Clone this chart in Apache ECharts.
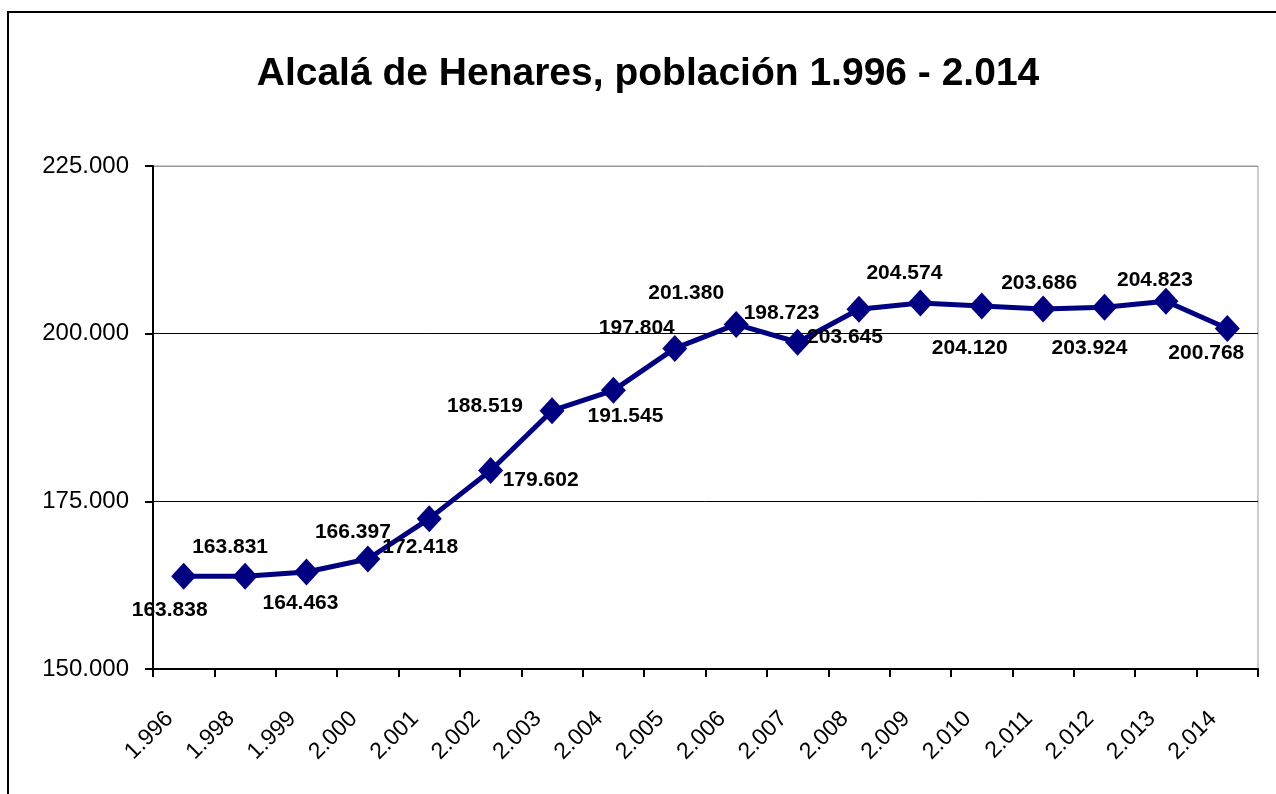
<!DOCTYPE html>
<html>
<head>
<meta charset="utf-8">
<script src="https://cdn.jsdelivr.net/npm/echarts@6/dist/echarts.min.js"></script>
<style>
  html, body { margin: 0; padding: 0; background: #fff; }
  #chart { width: 1276px; height: 794px; }
</style>
</head>
<body>
<div id="chart"></div>
<script>
// data
const years = ['1.996', '1.998', '1.999', '2.000', '2.001', '2.002', '2.003', '2.004', '2.005',
  '2.006', '2.007', '2.008', '2.009', '2.010', '2.011', '2.012', '2.013', '2.014'];
const population = [163838, 163831, 164463, 166397, 172418, 179602, 188519, 191545, 197804,
  201380, 198723, 203645, 204574, 204120, 203686, 203924, 204823, 200768];
const yTicks = [150000, 175000, 200000, 225000];

// where each data label sits relative to its point (label style only)
const labelOffsets = [
  [-14, 34], [-15, -29], [-6, 31], [-15, -27], [-9, 29], [50, 10],
  [-67, -4], [12, 26], [-38, -20], [-50, -31], [-16, -29], [-14, 28],
  [-16, -30], [-12, 42], [-4, -26], [-15, 41], [-11, -21], [-21, 25]
];

function fmt(v) {
  return (v / 1000).toFixed(3);
}

const seriesData = population.map(function (v, i) {
  return {
    value: v,
    label: { offset: labelOffsets[i] }
  };
});

const option = {
  animation: false,
  backgroundColor: '#fff',
  title: {
    text: 'Alcalá de Henares, población 1.996 - 2.014',
    left: 643,
    textAlign: 'center',
    top: 50,
    textStyle: {
      fontFamily: 'Liberation Sans',
      fontSize: 39,
      fontWeight: 'bold',
      color: '#000'
    }
  },
  graphic: [{
    type: 'rect',
    shape: { x: 8, y: 12, width: 1300, height: 820 },
    style: { fill: 'none', stroke: '#000', lineWidth: 2 },
    silent: true
  }],
  grid: {
    left: 153,
    right: 18,
    top: 166,
    bottom: 125,
    show: true,
    borderColor: '#999',
    borderWidth: 1
  },
  xAxis: {
    type: 'category',
    data: years,
    boundaryGap: true,
    axisLine: { lineStyle: { color: '#000', width: 2 } },
    axisTick: { show: true, length: 8, lineStyle: { color: '#000', width: 2 } },
    axisLabel: {
      rotate: 45,
      margin: 32,
      padding: [0, 20, 0, 0],
      fontFamily: 'Liberation Sans',
      fontSize: 23,
      color: '#000'
    },
    splitLine: { show: false }
  },
  yAxis: {
    type: 'value',
    min: yTicks[0],
    max: yTicks[yTicks.length - 1],
    interval: yTicks[1] - yTicks[0],
    axisLine: { show: true, lineStyle: { color: '#000', width: 2 } },
    axisTick: { show: true, length: 8, lineStyle: { color: '#000', width: 2 } },
    axisLabel: {
      margin: 24,
      formatter: fmt,
      fontFamily: 'Liberation Sans',
      fontSize: 24,
      color: '#000'
    },
    splitLine: {
      show: true,
      lineStyle: { color: ['#000', '#000', '#000', '#999'], width: 1 }
    }
  },
  series: [{
    type: 'line',
    data: seriesData,
    symbol: 'diamond',
    symbolSize: [25, 27],
    lineStyle: { color: '#000080', width: 5 },
    itemStyle: { color: '#000080' },
    label: {
      show: true,
      position: 'inside',
      formatter: function (p) { return fmt(p.value); },
      fontFamily: 'Liberation Sans',
      fontSize: 21,
      fontWeight: 'bold',
      color: '#000'
    },
    z: 3
  }]
};

const myChart = echarts.init(document.getElementById('chart'));
myChart.setOption(option);
window.onresize = myChart.resize;
</script>
</body>
</html>
